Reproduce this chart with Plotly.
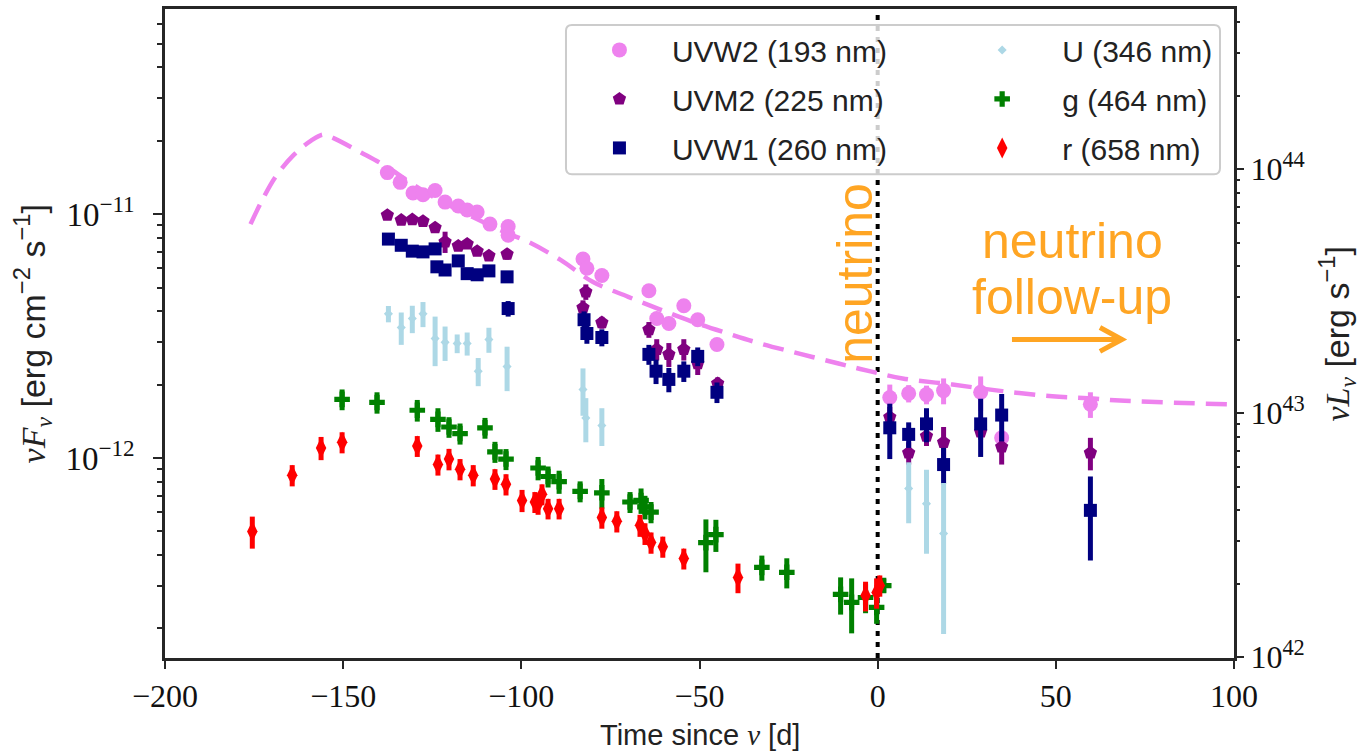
import plotly.graph_objects as go

# ---------------- data (flux in units of 1e-12 erg cm^-2 s^-1, time in days since neutrino) -------------
FLUX_UNIT = 1e-12
LOG_LUM_PER_FLUX = 54.816          # log10(4 pi d^2): maps nuF_nu to nuL_nu on the right axis
NEUTRINO_TIME = 0.0

uvw2_t = [-137.6, -134.0, -130.4, -127.6, -124.2, -121.4, -117.7, -115.2, -112.4, -108.8, -103.7, -103.7,
          -82.7, -81.6, -77.4, -64.2, -62.0, -58.6, -54.4, -50.5, -45.1,
          3.4, 8.7, 13.7, 18.5, 28.9, 34.8, 59.7]
uvw2_f = [14.8, 13.5, 12.2, 12.0, 12.5, 11.2, 10.8, 10.4, 10.2, 9.1, 8.9, 8.2,
          6.55, 6.0, 5.6, 4.85, 3.73, 3.56, 4.21, 3.69, 2.92,
          1.77, 1.84, 1.82, 1.89, 1.86, 1.21, 1.66]
uvw2_e = [0.4, 0.4, 0.35, 0.35, 0.35, 0.3, 0.3, 0.3, 0.3, 0.3, 0.3, 0.3,
          0.25, 0.25, 0.2, 0.2, 0.15, 0.15, 0.15, 0.15, 0.12,
          0.23, 0.15, 0.16, 0.23, 0.30, 0.06, 0.20]

uvm2_t = [-137.6, -133.7, -130.6, -127.6, -124.2, -121.4, -117.7, -115.2, -112.4, -109.1, -104.0,
          -82.7, -81.9, -77.4, -64.2, -62.0, -58.6, -54.4, -50.5, -44.9,
          3.4, 8.7, 13.7, 18.5, 28.9, 34.8, 59.7]
uvm2_f = [9.9, 9.45, 9.5, 9.35, 8.8, 7.7, 7.4, 7.55, 7.05, 6.75, 6.85,
          4.13, 4.80, 3.59, 3.36, 2.79, 2.66, 2.79, 2.44, 2.02,
          1.47, 1.05, 1.23, 1.16, 1.28, 1.11, 1.05]
uvm2_e = [0.25, 0.25, 0.25, 0.25, 0.3, 0.77, 0.3, 0.3, 0.3, 0.3, 0.35,
          0.3, 0.35, 0.2, 0.25, 0.28, 0.3, 0.28, 0.25, 0.12,
          0.15, 0.11, 0.11, 0.18, 0.09, 0.17, 0.16]

uvw1_t = [-137.3, -133.7, -130.6, -127.6, -124.2, -123.7, -121.4, -117.7, -115.2, -112.4, -109.1, -104.0, -103.7,
          -82.4, -81.6, -77.4, -64.2, -62.2, -58.6, -54.4, -50.5, -45.1,
          3.4, 8.7, 13.7, 18.5, 28.9, 34.8, 59.7]
uvw1_f = [7.9, 7.45, 7.05, 7.0, 7.2, 6.08, 5.9, 6.43, 5.7, 5.64, 5.85, 5.53, 4.1,
          3.69, 3.24, 3.12, 2.66, 2.27, 2.10, 2.27, 2.61, 1.86,
          1.33, 1.25, 1.38, 0.94, 1.38, 1.50, 0.61]
uvw1_e = [0.2, 0.2, 0.2, 0.2, 0.2, 0.25, 0.25, 0.2, 0.2, 0.2, 0.2, 0.3, 0.3,
          0.3, 0.3, 0.25, 0.25, 0.26, 0.24, 0.22, 0.23, 0.18,
          0.34, 0.15, 0.22, 0.16, 0.37, 0.33, 0.23]

u_t = [-137.3, -133.7, -130.6, -127.6, -124.2, -121.4, -118.0, -115.2, -112.1, -109.1, -104.0,
       -82.7, -81.9, -77.4, 8.7, 13.7, 18.5]
u_f = [3.9, 3.43, 3.73, 3.9, 3.09, 2.98, 2.95, 2.95, 2.27, 3.06, 2.37,
       1.91, 1.46, 1.36, 0.75, 0.65, 0.49]
u_e = [0.30, 0.52, 0.48, 0.46, 0.71, 0.48, 0.26, 0.32, 0.30, 0.36, 0.49,
       0.42, 0.30, 0.24, 0.21, 0.245, 0.30]

g_t = [-150.3, -140.5, -129.2, -123.4, -120.3, -117.2, -110.2, -107.4, -104.3, -95.3, -92.5, -89.4,
       -83.5, -77.4, -69.5, -66.4, -65.3, -63.6, -48.2, -45.4, -32.5, -25.5, -10.4, -7.3, -3.4, -0.3, 1.7]
g_f = [1.74, 1.69, 1.57, 1.44, 1.34, 1.26, 1.33, 1.06, 0.99, 0.91, 0.84, 0.80,
       0.73, 0.72, 0.66, 0.67, 0.63, 0.60, 0.45, 0.485, 0.356, 0.34, 0.276, 0.256, 0.268, 0.244, 0.30]
g_e = [0.17, 0.17, 0.16, 0.16, 0.13, 0.125, 0.13, 0.105, 0.098, 0.10, 0.083, 0.087,
       0.072, 0.10, 0.065, 0.08, 0.07, 0.06, 0.11, 0.073, 0.042, 0.048, 0.048, 0.065, 0.037, 0.035, 0.02]

r_t = [-175.5, -164.3, -156.2, -150.3, -129.2, -123.4, -120.3, -117.2, -113.5, -107.4, -104.3, -99.8,
       -96.2, -95.3, -94.2, -92.5, -89.4, -77.4, -73.2, -66.7, -65.3, -63.6, -60.3, -54.4, -39.2,
       -3.4, -0.3, 0.6]
r_f = [0.50, 0.85, 1.10, 1.16, 1.12, 0.94, 0.99, 0.90, 0.85, 0.82, 0.78, 0.67,
       0.66, 0.65, 0.71, 0.62, 0.62, 0.57, 0.55, 0.53, 0.49, 0.45, 0.433, 0.387, 0.324,
       0.273, 0.281, 0.30]
r_e = [0.075, 0.085, 0.12, 0.115, 0.11, 0.093, 0.10, 0.09, 0.085, 0.08, 0.078, 0.07,
       0.065, 0.065, 0.07, 0.06, 0.06, 0.057, 0.055, 0.055, 0.05, 0.045, 0.043, 0.038, 0.045,
       0.038, 0.04, 0.03]

model_t = [-176, -173, -169, -164, -159, -155.5, -153, -145, -137.5, -130, -122, -113.5, -104, -98,
           -89, -80, -70, -61, -52, -42, -33, -22, -11, -2, 7, 21, 35, 49, 59, 68, 98]
model_f = [9.1, 11.2, 14.2, 17.4, 20.0, 21.2, 20.6, 17.9, 15.55, 13.1, 11.2, 9.7, 8.36, 7.69,
           6.49, 5.28, 4.58, 4.06, 3.62, 3.24, 2.95, 2.68, 2.44, 2.265, 2.12, 2.00, 1.88, 1.79,
           1.76, 1.72, 1.66]

bands = [
    ("UVW2 (193 nm)", uvw2_t, uvw2_f, uvw2_e, "violet", "circle", 15, "legend"),
    ("UVM2 (225 nm)", uvm2_t, uvm2_f, uvm2_e, "purple", "pentagon", 14, "legend"),
    ("UVW1 (260 nm)", uvw1_t, uvw1_f, uvw1_e, "navy", "square", 13, "legend"),
    ("U (346 nm)", u_t, u_f, u_e, "lightblue", "diamond", 7, "legend2"),
    ("g (464 nm)", g_t, g_f, g_e, "green", "cross", 13, "legend2"),
    ("r (658 nm)", r_t, r_f, r_e, "red", "diamond-tall", 15, "legend2"),
]

y_log_range = [-12.820, -10.159]
x_ticks = [-200, -150, -100, -50, 0, 50, 100]

SERIF = "Liberation Serif"
SANS = "Liberation Sans"
ORANGE = "#FFA523"
AXC = "#262626"
TXT = "#222222"

fig = go.Figure()

# model curve
fig.add_trace(go.Scatter(
    x=model_t, y=[v * FLUX_UNIT for v in model_f], mode="lines",
    line=dict(color="violet", width=4.5, dash="21px,11px", shape="spline"),
    showlegend=False, hoverinfo="skip"))

for name, t, f, e, col, sym, size, leg in bands:
    fig.add_trace(go.Scatter(
        x=t, y=[v * FLUX_UNIT for v in f], mode="markers", name=name,
        legend=leg, legendgroup=name,
        marker=dict(symbol=sym, size=size, color=col, line=dict(width=0)),
        error_y=dict(type="data", array=[v * FLUX_UNIT for v in e], thickness=5, width=0, color=col)))

# invisible trace on the luminosity axis so that it is drawn
fig.add_trace(go.Scatter(
    x=model_t, y=[v * FLUX_UNIT * 10 ** LOG_LUM_PER_FLUX for v in model_f], yaxis="y2",
    mode="lines", line=dict(width=0, color="rgba(0,0,0,0)"), showlegend=False, hoverinfo="skip"))

def minor_vals(lo, hi):
    out = []
    for d in range(lo, hi + 1):
        for m in range(2, 10):
            out.append(m * 10.0 ** d)
    return out

left_major = [1e-12, 1e-11]
left_text = ["10<sup>−12</sup>", "10<sup>−11</sup>"]
right_major = [1e42, 1e43, 1e44]
right_text = ["10<sup>42</sup>", "10<sup>43</sup>", "10<sup>44</sup>"]

tickfont = dict(family=SERIF, size=32, color="#111")
ytickfont = dict(family=SERIF, size=33, color="#111")
legfont = dict(family=SANS, size=30, color=TXT)

fig.update_layout(
    width=1360, height=752,
    margin=dict(l=165, r=126, t=6, b=94),
    plot_bgcolor="white", paper_bgcolor="white",
    xaxis=dict(range=[-200, 100], tickmode="array", tickvals=x_ticks,
               ticks="outside", ticklen=8, tickwidth=2, tickcolor=AXC,
               showline=True, linewidth=2.5, linecolor=AXC, mirror=True,
               showgrid=False, zeroline=False, tickfont=tickfont),
    yaxis=dict(type="log", range=y_log_range, tickmode="array", tickvals=left_major, ticktext=left_text,
               ticks="outside", ticklen=9, tickwidth=2, tickcolor=AXC, ticklabelstandoff=12,
               minor=dict(tickmode="array", tickvals=minor_vals(-13, -11), ticks="outside",
                          ticklen=5, tickwidth=1.5, tickcolor=AXC, showgrid=False),
               showline=True, linewidth=2.5, linecolor=AXC, mirror=True,
               showgrid=False, zeroline=False, tickfont=ytickfont),
    yaxis2=dict(type="log", overlaying="y", side="right",
                range=[y_log_range[0] + LOG_LUM_PER_FLUX, y_log_range[1] + LOG_LUM_PER_FLUX],
                tickmode="array", tickvals=right_major, ticktext=right_text,
                ticks="outside", ticklen=9, tickwidth=2, tickcolor=AXC,
                minor=dict(tickmode="array", tickvals=minor_vals(42, 44), ticks="outside",
                           ticklen=5, tickwidth=1.5, tickcolor=AXC, showgrid=False),
                showline=False, showgrid=False, zeroline=False, tickfont=tickfont),
    legend=dict(x=0.376, y=0.977, xanchor="left", yanchor="top",
                bgcolor="rgba(0,0,0,0)", borderwidth=0, itemwidth=95,
                tracegroupgap=7, font=legfont),
    legend2=dict(x=0.727, y=0.977, xanchor="left", yanchor="top",
                 bgcolor="rgba(0,0,0,0)", borderwidth=0, itemwidth=110,
                 tracegroupgap=7, font=legfont),
    showlegend=True,
)

# neutrino arrival line
fig.add_shape(type="line", xref="x", yref="paper", x0=NEUTRINO_TIME, x1=NEUTRINO_TIME, y0=0, y1=1,
              line=dict(color="black", width=4, dash="5px,6px"), layer="below")

# legend frame (rounded)
def rounded_rect(x0, y0, x1, y1, rx, ry):
    return (f"M {x0+rx},{y0} L {x1-rx},{y0} Q {x1},{y0} {x1},{y0+ry} L {x1},{y1-ry} "
            f"Q {x1},{y1} {x1-rx},{y1} L {x0+rx},{y1} Q {x0},{y1} {x0},{y1-ry} "
            f"L {x0},{y0+ry} Q {x0},{y0} {x0+rx},{y0} Z")

fig.add_shape(type="path", xref="paper", yref="paper",
              path=rounded_rect(0.3751, 0.7454, 0.9869, 0.9755, 0.0056, 0.0092),
              fillcolor="rgba(255,255,255,0.8)", line=dict(color="#cccccc", width=2), layer="above")

# arrow for "neutrino follow-up"
fig.add_shape(type="path", xref="paper", yref="paper",
              path="M 0.7923,0.4908 L 0.8952,0.4908 M 0.8746,0.5092 L 0.8952,0.4908 L 0.8746,0.4724",
              line=dict(color=ORANGE, width=5))

ann_font = dict(family=SANS, size=50, color=ORANGE)
common = dict(xref="paper", yref="paper", showarrow=False, xanchor="center", yanchor="middle")
fig.add_annotation(text="neutrino", x=0.6455, y=0.592, textangle=-90, font=ann_font, **common)
fig.add_annotation(text="neutrino", x=0.8485, y=0.643, font=ann_font, **common)
fig.add_annotation(text="follow-up", x=0.8485, y=0.556, font=ann_font, **common)

# axis titles
fig.add_annotation(
    text=f"<span style='font-family:{SERIF}'><i>νF<sub>ν</sub></i></span> [erg cm<sup>−2</sup> s<sup>−1</sup>]",
    x=-0.1245, y=0.50, textangle=-90, font=dict(family=SANS, size=34, color=TXT), **common)
fig.add_annotation(
    text=f"<span style='font-family:{SERIF}'><i>νL<sub>ν</sub></i></span> [erg s<sup>−1</sup>]",
    x=1.0955, y=0.50, textangle=-90, font=dict(family=SANS, size=34, color=TXT), **common)
fig.add_annotation(
    text=f"Time since <span style='font-family:{SERIF}'><i>ν</i></span> [d]",
    x=0.5005, y=-0.118, font=dict(family=SANS, size=29, color=TXT), **common)

fig.write_html("out.html")
